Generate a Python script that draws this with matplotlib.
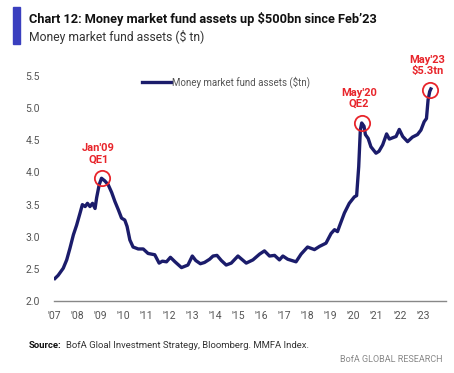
import matplotlib
matplotlib.use("Agg")
import matplotlib.pyplot as plt
from matplotlib.patches import Rectangle

# money market fund assets ($tn)
years = [2007.04, 2007.18, 2007.40, 2007.55, 2007.69, 2007.84, 2007.98, 2008.13,
         2008.23, 2008.35, 2008.45, 2008.56, 2008.67, 2008.78, 2008.85, 2008.96,
         2009.06, 2009.20, 2009.35, 2009.50, 2009.64, 2009.79, 2009.93, 2010.07,
         2010.17, 2010.29, 2010.43, 2010.58, 2010.65, 2010.87, 2011.08, 2011.37,
         2011.56, 2011.70, 2011.88, 2012.05, 2012.25, 2012.53, 2012.81, 2013.00,
         2013.15, 2013.35, 2013.53, 2013.75, 2013.90, 2014.07, 2014.26, 2014.47,
         2014.69, 2014.98, 2015.34, 2015.63, 2015.92, 2016.13, 2016.35, 2016.57,
         2016.78, 2016.93, 2017.14, 2017.50, 2017.72, 2018.00, 2018.30, 2018.52,
         2018.80, 2019.02, 2019.17, 2019.30, 2019.38, 2019.60, 2019.81, 2020.03,
         2020.13, 2020.22, 2020.29, 2020.35, 2020.45, 2020.51, 2020.63, 2020.75,
         2020.97, 2021.10, 2021.26, 2021.43, 2021.55, 2021.69, 2021.84, 2021.98,
         2022.13, 2022.34, 2022.55, 2022.77, 2022.92, 2023.06, 2023.16, 2023.23,
         2023.30, 2023.35]
assets = [2.35, 2.40, 2.51, 2.64, 2.82, 3.03, 3.18, 3.37,
          3.50, 3.47, 3.52, 3.47, 3.52, 3.44, 3.61, 3.81,
          3.91, 3.87, 3.81, 3.69, 3.55, 3.42, 3.29, 3.26,
          3.16, 2.95, 2.84, 2.82, 2.81, 2.81, 2.74, 2.72,
          2.59, 2.62, 2.61, 2.68, 2.61, 2.52, 2.56, 2.70,
          2.63, 2.58, 2.60, 2.65, 2.70, 2.71, 2.63, 2.56,
          2.59, 2.70, 2.59, 2.64, 2.73, 2.78, 2.70, 2.71,
          2.64, 2.70, 2.65, 2.61, 2.73, 2.84, 2.80, 2.85,
          2.90, 3.05, 3.11, 3.08, 3.16, 3.37, 3.52, 3.62,
          3.64, 4.09, 4.66, 4.77, 4.72, 4.59, 4.53, 4.40,
          4.30, 4.33, 4.43, 4.60, 4.52, 4.54, 4.56, 4.67,
          4.56, 4.48, 4.55, 4.59, 4.66, 4.79, 4.84, 5.13,
          5.26, 5.30]

tick_years = list(range(2007, 2024))
tick_labels = ["'%02d" % (y % 100) for y in tick_years]
y_ticks = [2.0, 2.5, 3.0, 3.5, 4.0, 4.5, 5.0, 5.5]

# annotated points: (x, y, label)
notes = [(2009.06, 3.91, "Jan'09\nQE1"),
         (2020.35, 4.77, "May'20\nQE2"),
         (2023.33, 5.28, "May'23\n$5.3tn")]

NAVY = "#1b1c6b"
RED = "#e8252b"
GREY = "#555555"
plt.rcParams["font.family"] = ["Roboto", "DejaVu Sans"]

fig = plt.figure(figsize=(4.54, 3.73), dpi=100)
ax = fig.add_axes([0.119, 0.193, 0.863, 0.603])

ax.plot(years, assets, color=NAVY, lw=2.4, label="Money market fund assets ($tn)")
ax.set_xlim(2007, 2024)
ax.set_ylim(2.0, 5.5)
ax.set_xticks(tick_years)
ax.set_xticklabels(tick_labels)
ax.set_yticks(y_ticks)
ax.set_yticklabels(["%.1f" % v for v in y_ticks])
ax.tick_params(length=0, labelsize=7.5, colors=GREY, pad=7)
ax.tick_params(axis="y", pad=10)
for s in ["top", "right", "left"]:
    ax.spines[s].set_visible(False)
ax.spines["bottom"].set_color("#888888")
ax.spines["bottom"].set_linewidth(1.0)

for x, y, txt in notes:
    ax.plot([x], [y], marker="o", ms=11, mfc="none", mec=RED, mew=1.3, clip_on=False)
    ax.annotate(txt, (x, y), xytext=(-2, 10), textcoords="offset points",
                ha="center", va="bottom", color=RED, fontsize=8,
                fontweight="bold", linespacing=1.15, annotation_clip=False)

leg = ax.legend(loc="upper center", bbox_to_anchor=(0.44, 1.04), frameon=False,
                fontsize=7, handlelength=3.0, handletextpad=0.1)
for t in leg.get_texts():
    t.set_color(GREY)

# header
fig.patches.append(Rectangle((13 / 454, 1 - 44 / 373), 7 / 454, 37 / 373,
                             transform=fig.transFigure, color="#3a3fbf"))
fig.text(29 / 454, 1 - 19 / 373, "Chart 12: Money market fund assets up $500bn since Feb\u201923",
         fontsize=9.2, fontweight="bold", va="center", color="#111111")
fig.text(29 / 454, 1 - 37 / 373, "Money market fund assets ($ tn)",
         fontsize=8.7, va="center", color="#333333")

fig.text(29 / 454, 1 - 346 / 373, "Source:", fontsize=6.8, fontweight="bold",
         va="center", color="#111111")
fig.text(66 / 454, 1 - 346 / 373,
         "BofA Gloal Investment Strategy, Bloomberg. MMFA Index.",
         fontsize=6.8, va="center", color="#333333")
fig.text(442 / 454, 1 - 359 / 373, "BofA GLOBAL RESEARCH", fontsize=6.5,
         ha="right", va="center", color="#888888")

fig.savefig("out.png", dpi=100)
